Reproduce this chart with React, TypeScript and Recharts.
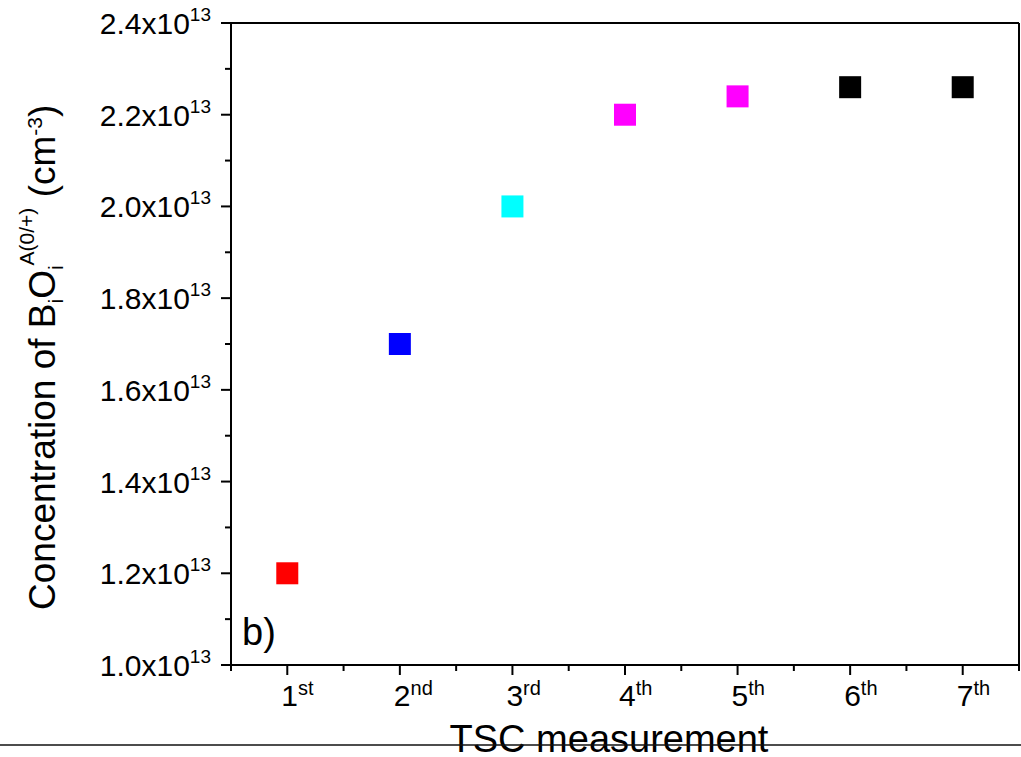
import { Cell, ReferenceLine, Scatter, ScatterChart, XAxis, YAxis } from "recharts";

const measurements = ["1st", "2nd", "3rd", "4th", "5th", "6th", "7th"];
const concentration = [1.2e13, 1.7e13, 2.0e13, 2.2e13, 2.24e13, 2.26e13, 2.26e13];
const pointColors = ["#ff0000", "#0000ff", "#00ffff", "#ff00ff", "#ff00ff", "#000000", "#000000"];
const xTicks = [0.5, 1, 1.5, 2, 2.5, 3, 3.5, 4, 4.5, 5, 5.5, 6, 6.5, 7, 7.5];
const yTicks = [
  1.0e13, 1.1e13, 1.2e13, 1.3e13, 1.4e13, 1.5e13, 1.6e13, 1.7e13,
  1.8e13, 1.9e13, 2.0e13, 2.1e13, 2.2e13, 2.3e13, 2.4e13,
];
const yRightTicks = [1.1e13, 1.3e13, 1.5e13, 1.7e13, 1.9e13, 2.1e13, 2.3e13];

const FONT = "'Liberation Sans', Arial, Helvetica, sans-serif";

const data = measurements.map((m, i) => ({ x: i + 1, y: concentration[i], name: m }));

function XTick({ x, y, payload }: any) {
  const v = payload.value;
  const major = Number.isInteger(v);
  const label = major ? measurements[v - 1] : "";
  return (
    <g>
      <line x1={x} x2={x} y1={y} y2={y + (major ? 10 : 6)} stroke="#000" strokeWidth={2} />
      {major && (
        <text x={x - 6} y={y + 41} fontSize={30} fill="#000" fontFamily={FONT}>
          {label.slice(0, 1)}
          <tspan dy={-11} fontSize={20}>{label.slice(1)}</tspan>
        </text>
      )}
    </g>
  );
}

function YTick({ x, y, payload }: any) {
  const v = payload.value;
  const major = Math.round(v / 1e12) % 2 === 0;
  return (
    <g>
      <line x1={x} x2={x - (major ? 10 : 6)} y1={y} y2={y} stroke="#000" strokeWidth={2} />
      {major && (
        <text x={x - 20} y={y + 11} textAnchor="end" fontSize={30} fill="#000" fontFamily={FONT}>
          {(v / 1e13).toFixed(1)}x10
          <tspan dy={-13} fontSize={19}>13</tspan>
        </text>
      )}
    </g>
  );
}

function EmptyTick() {
  return <g />;
}

function XTitle({ viewBox }: any) {
  const vb = viewBox || { x: 231, y: 665, width: 787, height: 92 };
  const cx = vb.x + vb.width / 2 - 16;
  return (
    <g>
      <text x={cx} y={vb.y + 87} textAnchor="middle" fontSize={38} fill="#000" fontFamily={FONT}>
        TSC measurement
      </text>
      <line x1={0} x2={1021} y1={vb.y + 80} y2={vb.y + 80} stroke="#111" strokeWidth={1.3} />
    </g>
  );
}

function YTitle({ viewBox }: any) {
  const vb = viewBox || { x: 0, y: 23, width: 231, height: 642 };
  const cx = 55;
  const cy = vb.y + vb.height - 55;
  return (
    <g fontFamily={FONT} fill="#000">
      <text x={cx} y={cy} transform={`rotate(-90 ${cx} ${cy})`} textAnchor="start" fontSize={37}>
        Concentration of B
        <tspan dy={8} fontSize={21}>i</tspan>
        <tspan dy={-8} fontSize={37}>O</tspan>
        <tspan dy={8} fontSize={21}>i</tspan>
        <tspan dy={-29} fontSize={21}>A(0/+)</tspan>
        <tspan dy={21} fontSize={37}>{" (cm"}</tspan>
        <tspan dy={-13} fontSize={21}>-3</tspan>
        <tspan dy={13} fontSize={37}>)</tspan>
      </text>
      <text x={vb.x + vb.width + 11} y={vb.y + vb.height - 20} fontSize={38}>
        b)
      </text>
    </g>
  );
}

export default function App() {
  return (
    <div style={{ position: "absolute", left: 0, top: 0, background: "#fff" }}>
      <ScatterChart width={1021} height={757} margin={{ top: 23, right: 2, bottom: 0, left: 0 }}>
        <XAxis
          type="number"
          dataKey="x"
          domain={[0.5, 7.5]}
          ticks={xTicks}
          interval={0}
          height={92}
          tickSize={0}
          tickMargin={0}
          tickLine={false}
          tick={<XTick />}
          axisLine={{ stroke: "#000", strokeWidth: 2 }}
          label={<XTitle />}
        />
        <YAxis
          type="number"
          dataKey="y"
          domain={[1.0e13, 2.4e13]}
          ticks={yTicks}
          interval={0}
          width={231}
          tickSize={0}
          tickMargin={0}
          tickLine={false}
          tick={<YTick />}
          axisLine={{ stroke: "#000", strokeWidth: 2 }}
          label={<YTitle />}
        />
        <YAxis
          yAxisId="right"
          orientation="right"
          type="number"
          dataKey="y"
          domain={[1.0e13, 2.4e13]}
          ticks={yRightTicks}
          interval={0}
          width={1}
          mirror
          tickSize={6}
          tick={<EmptyTick />}
          tickLine={{ stroke: "#000", strokeWidth: 2 }}
          axisLine={{ stroke: "#000", strokeWidth: 2 }}
        />
        <ReferenceLine y={2.4e13} stroke="#000" strokeWidth={2} />
        <Scatter
          data={data}
          isAnimationActive={false}
          shape={(p: any) => (
            <rect x={p.cx - 11} y={p.cy - 11} width={22} height={22} fill={p.fill} />
          )}
        >
          {data.map((d, i) => (
            <Cell key={d.name} fill={pointColors[i]} />
          ))}
        </Scatter>
      </ScatterChart>
    </div>
  );
}
